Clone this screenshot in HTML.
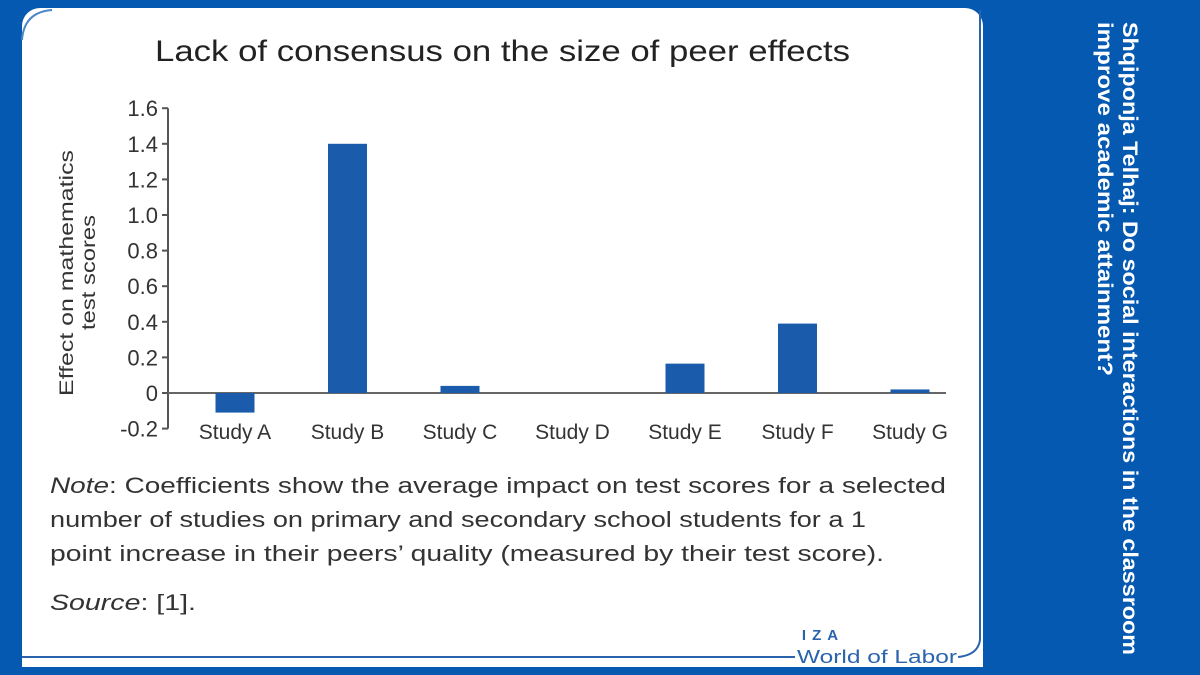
<!DOCTYPE html>
<html><head><meta charset="utf-8"><style>
html,body{margin:0;padding:0;}
body{width:1200px;height:675px;background:#0659b0;position:relative;overflow:hidden;font-family:"Liberation Sans",sans-serif;}
#panel{position:absolute;left:22px;top:8px;width:961px;height:659px;background:#fff;border-radius:18px 18px 0 0;}
</style></head><body>
<div id="panel"></div>
<svg width="1200" height="675" style="position:absolute;left:0;top:0">
  <path d="M22,40 Q24,12 52,10" stroke="#4a86c8" stroke-width="2" fill="none"/>
  <text x="155" y="61" textLength="695" lengthAdjust="spacingAndGlyphs" font-size="30" fill="#222">Lack of consensus on the size of peer effects</text>
  <g id="axes"></g>
  <g id="bars"></g>
  <g fill="#333" font-size="19">
    <text transform="translate(73,396) rotate(-90)" textLength="246" lengthAdjust="spacingAndGlyphs">Effect on mathematics</text>
    <text transform="translate(95,330) rotate(-90)" textLength="115" lengthAdjust="spacingAndGlyphs">test scores</text>
  </g>
  <g font-size="22" fill="#333">
    <text x="50" y="493" textLength="896" lengthAdjust="spacingAndGlyphs"><tspan font-style="italic">Note</tspan>: Coefficients show the average impact on test scores for a selected</text>
    <text x="50" y="527" textLength="816" lengthAdjust="spacingAndGlyphs">number of studies on primary and secondary school students for a 1</text>
    <text x="50" y="561" textLength="834" lengthAdjust="spacingAndGlyphs">point increase in their peers’ quality (measured by their test score).</text>
    <text x="50" y="610" textLength="146" lengthAdjust="spacingAndGlyphs"><tspan font-style="italic">Source</tspan>: [1].</text>
  </g>
  <text x="823" y="640" text-anchor="middle" font-size="15" font-weight="bold" fill="#2a64ad" letter-spacing="6">IZA</text>
  <path d="M22,657 L795,657 M958,657 Q978,655 980,640 L980,10" stroke="#2a64ad" stroke-width="2" fill="none"/>
  <text x="797" y="663" textLength="160" lengthAdjust="spacingAndGlyphs" font-size="18" fill="#2a64ad">World of Labor</text>
  <g fill="#fff" font-weight="bold" font-size="21">
    <text transform="translate(1123,22) rotate(90)" textLength="633" lengthAdjust="spacingAndGlyphs">Shqiponja Telhaj: Do social interactions in the classroom</text>
    <text transform="translate(1098,22) rotate(90)" textLength="354" lengthAdjust="spacingAndGlyphs">improve academic attainment?</text>
  </g>
</svg>
<script>
const categories=["Study A","Study B","Study C","Study D","Study E","Study F","Study G"];
const values=[-0.11,1.40,0.04,0,0.165,0.39,0.02];
const yTicks=[-0.2,0,0.2,0.4,0.6,0.8,1.0,1.2,1.4,1.6];
const yTickLabels=["-0.2","0","0.2","0.4","0.6","0.8","1.0","1.2","1.4","1.6"];
const NS="http://www.w3.org/2000/svg";
const y0=393,per=35.6/0.2;
function y(v){return y0-v*per;}
function x(i){return 235+i*112.5;}
const axes=document.getElementById('axes'),bars=document.getElementById('bars');
function mk(t,a,p){const e=document.createElementNS(NS,t);for(const k in a)e.setAttribute(k,a[k]);p.appendChild(e);return e;}
const ya=mk('line',{x1:168,x2:168,y1:y(1.6),y2:y(-0.2),stroke:'#555','stroke-width':2},axes);


yTicks.forEach((v,i)=>{
  mk('line',{x1:162,x2:168,y1:y(v),y2:y(v),stroke:'#555','stroke-width':2},axes);
  const t=mk('text',{x:158,y:y(v)+8,'text-anchor':'end','font-size':22,fill:'#333'},axes);
  t.textContent=yTickLabels[i];
  
  
});
values.forEach((v,i)=>{
  const r=mk('rect',{x:x(i)-19.5,width:39,y:Math.min(y(v),y0),height:Math.abs(y(v)-y0),fill:'#1a5cab'},bars);
  
  
  const t=mk('text',{x:x(i),y:439,'text-anchor':'middle','font-size':21,fill:'#333'},axes);
  t.textContent=categories[i];
  
  
});
const xa=mk('line',{x1:168,x2:946,y1:y0,y2:y0,stroke:'#666','stroke-width':2},axes);


</script>
</body></html>
